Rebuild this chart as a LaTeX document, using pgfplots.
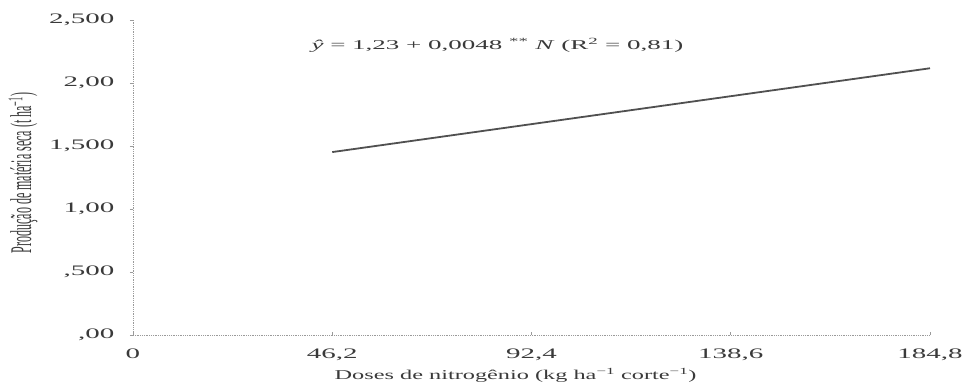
\documentclass[border=0pt]{standalone}
\usepackage{fontspec}
\setmainfont[FakeStretch=1.8]{Liberation Serif}
\newfontfamily\tickfont[FakeStretch=2.0]{Liberation Serif}
\newfontfamily\eqfont[FakeStretch=2.0]{Liberation Serif}
\newfontfamily\ylabfont[FakeStretch=0.40]{Liberation Serif}
\usepackage{pgfplots}
\pgfplotsset{compat=1.18}
\definecolor{txt}{HTML}{3A3A3A}
\definecolor{ax}{HTML}{9A9A9A}
\definecolor{ln}{HTML}{505050}
\begin{document}
\begin{tikzpicture}
\begin{axis}[
  width=797bp, height=315bp, scale only axis,
  xmin=0, xmax=184.8, ymin=0, ymax=2.5,
  axis x line=bottom, axis y line=left,
  axis line style={ax, densely dotted, line width=0.8bp, -},
  xtick={0,46.2,92.4,138.6,184.8},
  xticklabels={0,{46,2},{92,4},{138,6},{184,8}},
  ytick={0,0.5,1,1.5,2,2.5},
  yticklabels={{,00},{,500},{1,00},{1,500},{2,00},{2,500}},
  x tick style={ax, line width=0.6bp},
  y tick style={ax, line width=0.6bp},
  xtick align=inside, ytick align=outside,
  major tick length=3bp,
  /pgf/number format/assume math mode=true,
  tick label style={font=\fontsize{14.5bp}{16bp}\tickfont, text=txt},
  xticklabel style={yshift=-10bp},
  yticklabel style={xshift=-12bp},
  xlabel={Doses de nitrogênio (kg ha\textsuperscript{−1} corte\textsuperscript{−1})},
  xlabel style={font=\fontsize{13.5bp}{15bp}\selectfont, text=txt,
    at={(axis description cs:0.48,0)}, anchor=center, yshift=-40bp},
  ylabel={Produção de matéria seca (t ha\textsuperscript{−1})},
  ylabel style={font=\fontsize{30bp}{32bp}\ylabfont, text=txt,
    at={(axis description cs:-0.138,0.514)}, anchor=center},
  clip=false,
]
\addplot[ln, line width=1.8bp] coordinates {(46.2,1.4518) (184.8,2.1170)};
\node[text=txt, font=\fontsize{13.5bp}{15bp}\eqfont] at (axis cs:84.5,2.30)
  {\textit{ŷ} = 1,23 + 0,0048 \textsuperscript{**} \textit{N} (R\textsuperscript{2} = 0,81)};
\end{axis}
\pgfresetboundingbox
\path ([xshift=-133bp,yshift=-47bp]current axis.south west) rectangle ([xshift=32bp,yshift=20bp]current axis.north east);
\end{tikzpicture}
\end{document}
